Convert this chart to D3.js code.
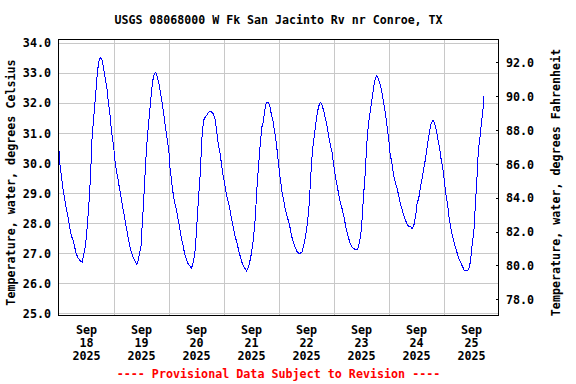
<!DOCTYPE html>
<html>
<head>
<meta charset="utf-8">
<script src="https://cdn.jsdelivr.net/npm/d3@7"></script>
<style>
  html, body { margin: 0; padding: 0; background: #fff; }
  svg { display: block; }
  text { font-family: "DejaVu Sans Mono", "Liberation Mono", monospace; font-weight: bold; fill: #000; }
</style>
</head>
<body>
<svg id="chart" width="576" height="384"></svg>
<script>
// ---- Data ----
const title = "USGS 08068000 W Fk San Jacinto Rv nr Conroe, TX";
const leftLabel = "Temperature, water, degrees Celsius";
const rightLabel = "Temperature, water, degrees Fahrenheit";
const footer = "---- Provisional Data Subject to Revision ----";

// hours after Sep 18 2025 00:00
const hours = [
  0.2,0.5,1.2,1.9,2.6,3.4,4.1,4.8,5.5,6.3,7.0,7.7,8.5,9.5,10.3,10.9,11.8,12.5,13.25,13.8,14.3,14.7,15.3,15.9,16.45,17.0,17.6,18.3,19.1,19.8,20.5,21.25,21.8,22.6,23.1,
  24.0,24.6,25.2,25.9,26.6,27.4,28.1,28.8,29.5,30.3,31.0,31.7,32.45,33.3,34.2,34.8,35.4,36.1,36.5,37.1,37.5,38.0,38.4,38.85,39.4,40.0,40.6,41.2,41.8,42.4,43.1,43.8,44.5,45.3,46.0,46.7,47.4,
  48.2,48.6,49.2,49.9,50.6,51.35,52.1,52.8,53.5,54.3,55.0,55.7,56.45,57.2,58.05,58.9,59.65,60.2,60.8,61.5,62.0,62.4,62.85,63.4,64.15,64.9,65.6,66.3,67.4,68.4,69.1,69.8,70.6,71.15,71.9,
  72.6,73.3,74.05,74.8,75.5,76.2,76.9,77.7,78.4,79.1,79.9,80.6,81.3,82.05,82.8,83.5,84.2,84.8,85.2,85.7,86.1,86.5,86.9,87.5,88.1,88.8,89.4,90.0,90.6,91.35,92.1,92.8,93.5,94.3,95.0,95.45,
  96.0,96.7,97.5,98.2,98.9,99.6,100.4,101.1,101.8,102.6,103.3,104.0,104.75,105.5,106.3,106.9,107.5,108.1,108.7,109.25,109.7,110.1,110.6,111.1,111.7,112.3,112.9,113.5,114.2,114.9,115.6,116.3,117.1,117.8,118.5,119.3,
  120.0,120.7,121.5,122.2,122.9,123.7,124.4,125.1,125.8,126.6,127.3,128.0,128.7,129.9,130.6,131.4,131.9,132.4,132.8,133.3,133.7,134.1,134.6,135.0,135.6,136.2,136.7,137.3,137.8,138.3,138.9,139.5,140.2,140.9,141.7,142.4,143.1,
  143.6,144.2,144.7,145.5,146.2,146.9,147.7,148.4,149.1,149.8,150.6,151.3,152.0,152.8,153.8,154.3,155.1,155.8,156.5,157.2,158.0,158.7,159.4,160.2,160.7,161.3,161.9,162.6,163.4,164.1,164.8,165.5,166.3,167.0,167.7,
  168.3,169.0,169.8,170.5,171.2,172.0,172.7,173.4,174.2,174.9,175.6,176.3,177.2,178.1,179.0,179.6,180.2,180.6,181.2,181.6,182.0,182.5,182.9,183.3,183.8,184.2,184.6,185.1,185.5,185.6
];
const tempC = [
  30.43,30.04,29.60,29.16,28.83,28.49,28.22,27.89,27.61,27.44,27.22,27.00,26.84,26.75,26.70,26.92,27.28,27.85,28.61,29.33,30.16,30.93,31.43,31.99,32.49,33.04,33.37,33.51,33.42,33.09,32.75,32.42,31.98,31.54,31.04,
  30.60,30.10,29.77,29.49,29.16,28.83,28.49,28.22,27.89,27.56,27.28,27.06,26.89,26.75,26.61,26.78,27.00,27.28,27.94,28.61,29.27,29.94,30.49,30.93,31.38,31.88,32.38,32.76,32.98,33.01,32.87,32.65,32.31,31.98,31.59,31.15,30.82,
  30.37,29.88,29.49,29.05,28.72,28.49,28.16,27.89,27.56,27.28,27.00,26.84,26.67,26.59,26.50,26.73,27.11,27.72,28.49,29.27,29.82,30.60,31.10,31.43,31.54,31.61,31.69,31.72,31.65,31.43,30.99,30.60,30.27,29.94,29.55,
  29.27,28.94,28.72,28.44,28.16,27.89,27.61,27.39,27.17,26.95,26.73,26.58,26.50,26.41,26.52,26.73,27.00,27.33,27.61,28.00,28.49,29.05,29.49,30.10,30.71,31.21,31.38,31.76,31.98,32.02,31.93,31.65,31.43,31.04,30.68,30.38,
  29.99,29.52,29.05,28.77,28.49,28.27,28.05,27.83,27.55,27.33,27.19,27.07,27.00,27.00,27.05,27.22,27.44,27.72,28.05,28.49,29.05,29.60,30.16,30.60,30.93,31.32,31.65,31.87,32.02,31.95,31.76,31.54,31.26,30.93,30.65,30.38,
  29.99,29.60,29.27,28.99,28.71,28.49,28.27,27.99,27.72,27.50,27.33,27.22,27.16,27.11,27.14,27.39,27.61,28.05,28.55,29.10,29.49,30.05,30.71,31.10,31.48,31.81,32.09,32.37,32.65,32.81,32.90,32.81,32.65,32.43,32.09,31.76,31.40,
  31.08,30.71,30.30,29.99,29.60,29.38,29.16,28.94,28.66,28.49,28.27,28.11,27.99,27.88,27.88,27.80,27.94,28.22,28.66,28.83,29.21,29.49,29.82,30.16,30.43,30.76,31.04,31.32,31.42,31.32,31.10,30.82,30.49,30.10,29.82,
  29.44,28.99,28.60,28.16,27.83,27.55,27.33,27.16,26.94,26.78,26.67,26.56,26.41,26.41,26.45,26.67,27.00,27.39,27.66,28.16,28.77,29.32,29.99,30.49,30.76,31.04,31.37,31.70,31.92,32.22
];

const dayLabels = ["18","19","20","21","22","23","24","25"];
const monthLabel = "Sep";
const yearLabel = "2025";
const celsiusTicks = [25,26,27,28,29,30,31,32,33,34];
const fahrenheitTicks = [78,80,82,84,86,88,90,92];

// ---- Layout ----
const W = 576, H = 384;
const L = 58.5, R = 498.5, T = 39.5, B = 315.5;
const start = new Date(2025, 8, 18, 0, 0, 0);
const end = new Date(2025, 8, 26, 0, 0, 0);
const hourMs = 3600 * 1000;

const svg = d3.select("#chart");
svg.append("rect").attr("width", W).attr("height", H).attr("fill", "#fff");

const x = d3.scaleTime().domain([start, end]).range([L, R]);
const yC = d3.scaleLinear().domain([24.93, 34.103]).range([B, T]);
const yF = d3.scaleLinear().domain([77.04, 93.35]).range([B, T]);

const data = hours.map((h, i) => ({ t: new Date(start.getTime() + h * hourMs), v: tempC[i] }));

const midnights = d3.range(1, 8).map(d => new Date(2025, 8, 18 + d, 0, 0, 0));
const noons = dayLabels.map((d, i) => new Date(2025, 8, 18 + i, 12, 0, 0));

// gridlines
const gridY = svg.append("g").attr("transform", `translate(${L},0)`)
  .call(d3.axisLeft(yC).tickValues(celsiusTicks).tickSize(-(R - L)).tickFormat(""));
const gridX = svg.append("g").attr("transform", `translate(0,${B})`)
  .call(d3.axisBottom(x).tickValues(midnights).tickSize(-(B - T)).tickFormat(""));
[gridY, gridX].forEach(g => {
  g.select(".domain").remove();
  g.selectAll("line").attr("stroke", "#c8c8c8").attr("stroke-width", 1).attr("shape-rendering", "crispEdges");
});

// data line
svg.append("path")
  .datum(data)
  .attr("fill", "none")
  .attr("stroke", "#0000ff")
  .attr("stroke-width", 1)
  .attr("shape-rendering", "crispEdges")
  .attr("d", d3.line().x(d => x(d.t)).y(d => yC(d.v)));

// frame
svg.append("rect")
  .attr("x", L).attr("y", T).attr("width", R - L).attr("height", B - T)
  .attr("fill", "none").attr("stroke", "#000").attr("stroke-width", 1)
  .attr("shape-rendering", "crispEdges");

const fs = "11.7px";

// left axis labels
const axL = svg.append("g").attr("transform", `translate(${L},0)`)
  .call(d3.axisLeft(yC).tickValues(celsiusTicks).tickSize(0).tickPadding(7.5).tickFormat(d3.format(".1f")));
axL.select(".domain").remove();
axL.selectAll("text").attr("font-family", null).attr("font-size", fs).attr("dy", "0.36em");

// right axis (Fahrenheit)
const axR = svg.append("g").attr("transform", `translate(${R},0)`)
  .call(d3.axisRight(yF).tickValues(fahrenheitTicks).tickSizeInner(-3).tickSizeOuter(0).tickPadding(7.5).tickFormat(d3.format(".1f")));
axR.select(".domain").remove();
axR.selectAll("line").attr("stroke", "#000").attr("shape-rendering", "crispEdges");
axR.selectAll("text").attr("font-family", null).attr("font-size", fs).attr("dy", "0.36em");

// bottom axis labels
const axB = svg.append("g").attr("transform", `translate(0,${B})`)
  .call(d3.axisBottom(x).tickValues(noons).tickSize(0).tickFormat(""));
axB.select(".domain").remove();
axB.selectAll(".tick text").each(function(d, i) {
  const t = d3.select(this).attr("font-family", null).attr("font-size", fs).attr("dy", null).attr("y", null);
  t.text(null);
  [[monthLabel, 18], [dayLabels[i], 31.5], [yearLabel, 44.5]].forEach(([s, yy]) => {
    t.append("tspan").attr("x", 0).attr("y", yy).text(s);
  });
});

// title
svg.append("text").attr("x", (L + R) / 2).attr("y", 24).attr("text-anchor", "middle")
  .attr("font-size", "11.6px").text(title);

// axis titles
svg.append("text").attr("transform", `translate(14.5,${(T + B) / 2 + 5}) rotate(-90)`)
  .attr("text-anchor", "middle").attr("font-size", fs).text(leftLabel);
svg.append("text").attr("transform", `translate(559.5,${(T + B) / 2 + 5}) rotate(-90)`)
  .attr("text-anchor", "middle").attr("font-size", fs).text(rightLabel);

// footer
svg.append("text").attr("x", (L + R) / 2).attr("y", 377.5).attr("text-anchor", "middle")
  .attr("font-size", fs).style("fill", "#ff0000").text(footer);
</script>
</body>
</html>
